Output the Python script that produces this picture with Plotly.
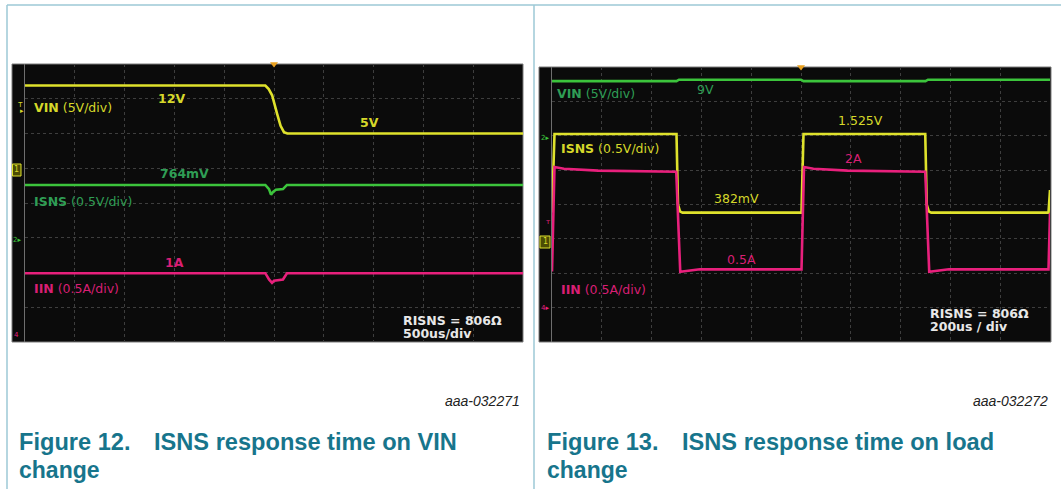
import plotly.graph_objects as go

W, H = 1061, 489

# ---------------- Figure 12 : ISNS response on VIN change (time in ms) ----------------
f12_t_vin = [0.0, 2.413, 2.447, 2.481, 2.532, 2.566, 2.600, 2.634, 5.0]
f12_vin = [11.9, 11.9, 11.4, 10.5, 7.8, 6.1, 5.2, 5.0, 5.0]            # V

f12_t_isns = [0.0, 2.413, 2.45, 2.47, 2.49, 2.52, 2.59, 2.63, 5.0]
f12_isns = [0.76, 0.76, 0.70, 0.62, 0.66, 0.69, 0.70, 0.76, 0.76]      # V

f12_t_iin = [0.0, 2.413, 2.45, 2.48, 2.50, 2.59, 2.63, 5.0]
f12_iin = [0.99, 0.99, 0.90, 0.85, 0.88, 0.90, 0.99, 0.99]             # A

# ---------------- Figure 13 : ISNS response on load change (time in ms) ----------------
f13_t_vin = [0.0, 0.500, 0.510, 1.000, 1.010, 1.500, 1.510, 2.0]
f13_vin = [9.0, 9.0, 9.2, 9.2, 9.0, 9.0, 9.2, 9.2]                      # V

f13_t_isns = [0.0, 0.010, 0.500, 0.506, 0.514, 0.524, 1.002, 1.010,
              1.499, 1.505, 1.513, 1.523, 1.994, 2.0]
f13_isns = [0.382, 1.525, 1.525, 0.50, 0.40, 0.382, 0.382, 1.525,
            1.525, 0.50, 0.40, 0.382, 0.382, 0.71]                      # V

f13_t_iin = [0.0, 0.010, 0.048, 0.185, 0.499, 0.515, 0.594, 1.002, 1.012,
             1.050, 1.187, 1.499, 1.515, 1.594, 1.994, 2.0]
f13_iin = [0.51, 2.03, 2.006, 1.977, 1.962, 0.508, 0.542, 0.542, 2.03,
           2.006, 1.977, 1.962, 0.508, 0.542, 0.542, 1.36]              # A

# scope channel settings: (units per division, ground position in divisions)
F12_VIN_CH = (5.0, 5.0)
F12_ISNS_CH = (0.5, 3.0)
F12_IIN_CH = (0.5, 0.0)
F13_VIN_CH = (5.0, 5.79)
F13_ISNS_CH = (0.5, 3.0)
F13_IIN_CH = (0.5, 1.03)
NDIV_Y = 8

YELLOW = "#dfe22c"
GREEN = "#3cc43c"
PINK = "#e8207c"
YEL_TXT = "#d6d82a"
GRN_TXT = "#2f9e55"
PNK_TXT = "#d81f74"
TEAL = "#17758c"
BORDER = "#9cc8d6"


def ch_range(ch):
    s, g = ch
    return [-g * s, (NDIV_Y - g) * s]


def px(x):
    return x / W


def py(y):
    return 1 - y / H


fig = go.Figure()

# ---- left scope traces
fig.add_trace(go.Scatter(x=f12_t_vin, y=f12_vin, xaxis="x", yaxis="y",
                         mode="lines", line=dict(color=YELLOW, width=2.6)))
fig.add_trace(go.Scatter(x=f12_t_isns, y=f12_isns, xaxis="x", yaxis="y2",
                         mode="lines", line=dict(color=GREEN, width=2.6)))
fig.add_trace(go.Scatter(x=f12_t_iin, y=f12_iin, xaxis="x", yaxis="y3",
                         mode="lines", line=dict(color=PINK, width=2.6)))
# trigger marker
fig.add_trace(go.Scatter(x=[2.5], y=[ch_range(F12_VIN_CH)[1]], xaxis="x", yaxis="y",
                         mode="markers", cliponaxis=False,
                         marker=dict(symbol="triangle-down", size=7, color="#e8a020")))

# ---- right scope traces
fig.add_trace(go.Scatter(x=f13_t_vin, y=f13_vin, xaxis="x2", yaxis="y5",
                         mode="lines", line=dict(color=GREEN, width=2.6)))
fig.add_trace(go.Scatter(x=f13_t_iin, y=f13_iin, xaxis="x2", yaxis="y6",
                         mode="lines", line=dict(color=PINK, width=2.6)))
fig.add_trace(go.Scatter(x=f13_t_isns, y=f13_isns, xaxis="x2", yaxis="y4",
                         mode="lines", line=dict(color=YELLOW, width=2.6)))
fig.add_trace(go.Scatter(x=[1.0], y=[ch_range(F13_ISNS_CH)[1]], xaxis="x2", yaxis="y4",
                         mode="markers", cliponaxis=False,
                         marker=dict(symbol="triangle-down", size=7, color="#e8a020")))

grid = dict(showgrid=True, gridcolor="#3e3e3e", griddash="dot", gridwidth=1,
            zeroline=False, showticklabels=False, ticks="", fixedrange=True)
hidden = dict(visible=False, showgrid=False, zeroline=False, fixedrange=True)

L_DOM_Y = [py(342), py(64)]
R_DOM_Y = [py(342), py(67)]

fig.update_layout(
    width=W, height=H,
    margin=dict(l=0, r=0, t=0, b=0),
    paper_bgcolor="white",
    plot_bgcolor="rgba(0,0,0,0)",
    showlegend=False,
    xaxis=dict(domain=[px(25), px(523)], range=[0, 5], dtick=0.5, anchor="y", **grid),
    yaxis=dict(domain=L_DOM_Y, range=ch_range(F12_VIN_CH), dtick=5, tick0=0, anchor="x",
               showline=True, linecolor="#6e6e6e", linewidth=1, **grid),
    yaxis2=dict(overlaying="y", anchor="x", range=ch_range(F12_ISNS_CH), **hidden),
    yaxis3=dict(overlaying="y", anchor="x", range=ch_range(F12_IIN_CH), **hidden),
    xaxis2=dict(domain=[px(552), px(1050)], range=[0, 2], dtick=0.2, anchor="y4", **grid),
    yaxis4=dict(domain=R_DOM_Y, range=ch_range(F13_ISNS_CH), dtick=0.5, tick0=0, anchor="x2",
                showline=True, linecolor="#6e6e6e", linewidth=1, **grid),
    yaxis5=dict(overlaying="y4", anchor="x2", range=ch_range(F13_VIN_CH), **hidden),
    yaxis6=dict(overlaying="y4", anchor="x2", range=ch_range(F13_IIN_CH), **hidden),
)

shapes = []
# scope screens
shapes.append(dict(type="rect", xref="paper", yref="paper", layer="below",
                   x0=px(12), x1=px(523), y0=py(342), y1=py(64),
                   fillcolor="#0b0b0b", line=dict(color="#7a7a7a", width=1)))
shapes.append(dict(type="rect", xref="paper", yref="paper", layer="below",
                   x0=px(539), x1=px(1051), y0=py(342), y1=py(67),
                   fillcolor="#0b0b0b", line=dict(color="#7a7a7a", width=1)))
# page/table borders
shapes.append(dict(type="line", xref="paper", yref="paper", x0=px(7), x1=1.0,
                   y0=py(5), y1=py(5), line=dict(color=BORDER, width=1.5)))
shapes.append(dict(type="line", xref="paper", yref="paper", x0=px(7), x1=px(7),
                   y0=0, y1=py(5), line=dict(color=BORDER, width=1.5)))
shapes.append(dict(type="line", xref="paper", yref="paper", x0=px(534), x1=px(534),
                   y0=0, y1=py(5), line=dict(color=BORDER, width=1.5)))
# channel marker boxes
shapes.append(dict(type="rect", xref="paper", yref="paper", x0=px(12.5), x1=px(21),
                   y0=py(176), y1=py(164), line=dict(color=YELLOW, width=1),
                   fillcolor="rgba(120,120,0,0.6)"))
shapes.append(dict(type="rect", xref="paper", yref="paper", x0=px(540), x1=px(550),
                   y0=py(248), y1=py(236), line=dict(color=YELLOW, width=1),
                   fillcolor="rgba(120,120,0,0.6)"))
fig.update_layout(shapes=shapes)

SC_FONT = "DejaVu Sans, Verdana, sans-serif"
annos = []


def label(x, y, text, color, size=12.5, xanchor="left", family=SC_FONT):
    annos.append(dict(xref="paper", yref="paper", x=px(x), y=py(y), text=text,
                      showarrow=False, xanchor=xanchor, yanchor="middle",
                      font=dict(family=family, size=size, color=color), borderpad=0))


# left scope labels
label(33, 107, "<b>VIN</b> (5V/div)", YEL_TXT)
label(157, 99, "<b>12V</b>", YEL_TXT)
label(359, 122, "<b>5V</b>", YEL_TXT)
label(159, 173, "<b>764mV</b>", GRN_TXT)
label(33, 201, "<b>ISNS</b> (0.5V/div)", GRN_TXT)
label(164, 262, "<b>1A</b>", PNK_TXT)
label(33, 288, "<b>IIN</b> (0.5A/div)", PNK_TXT)
label(402, 320, "<b>RISNS = 806Ω</b>", "#e8e8e8")
label(402, 333, "<b>500us/div</b>", "#e8e8e8")
# left channel markers
label(17, 104, "т", YEL_TXT, size=8)
label(19, 111, "▸", YEL_TXT, size=7)
label(16.8, 170, "1", YEL_TXT, size=8, xanchor="center")
label(17, 240, "2▸", GREEN, size=7, xanchor="center")
label(16, 335, "4", PINK, size=7, xanchor="center")

# right scope labels
label(556, 94, "<b>VIN</b> (5V/div)", GRN_TXT)
label(696, 89, "9V", GRN_TXT)
label(560, 149, "<b>ISNS</b> (0.5V/div)", YEL_TXT)
label(837, 121, "1.525V", YEL_TXT)
label(844, 158, "2A", PNK_TXT)
label(713, 198, "382mV", YEL_TXT)
label(726, 259, "0.5A", PNK_TXT)
label(560, 289, "<b>IIN</b> (0.5A/div)", PNK_TXT)
label(929, 313, "<b>RISNS = 806Ω</b>", "#e8e8e8")
label(929, 326, "<b>200us / div</b>", "#e8e8e8")
# right channel markers
label(545, 138, "2▸", GREEN, size=7, xanchor="center")
label(548, 222, "т", PINK, size=7, xanchor="center")
label(545, 242, "1", YEL_TXT, size=8, xanchor="center")
label(545, 308, "4▸", PINK, size=7, xanchor="center")

# figure ids
label(521, 401, "<i>aaa-032271</i>", "#222222", size=14, xanchor="right",
      family="Liberation Sans Narrow, Arial Narrow, Liberation Sans, Arial, sans-serif")
label(1049, 401, "<i>aaa-032272</i>", "#222222", size=14, xanchor="right",
      family="Liberation Sans Narrow, Arial Narrow, Liberation Sans, Arial, sans-serif")

CAP_FONT = "Liberation Sans, Arial, sans-serif"
label(18, 442, "<b>Figure 12.\u2002\u2002ISNS response time on VIN</b>", TEAL, size=23.6, family=CAP_FONT)
label(18, 470, "<b>change</b>", TEAL, size=23, family=CAP_FONT)
label(546, 442, "<b>Figure 13.\u2002\u2002ISNS response time on load</b>", TEAL, size=23.6, family=CAP_FONT)
label(546, 470, "<b>change</b>", TEAL, size=23, family=CAP_FONT)

fig.update_layout(annotations=annos)

fig.write_html(
    "out.html",
    config={"displayModeBar": False},
    post_script="document.body.style.margin='0';"
                "document.documentElement.style.overflow='hidden';"
                "document.body.style.overflow='hidden';",
)
